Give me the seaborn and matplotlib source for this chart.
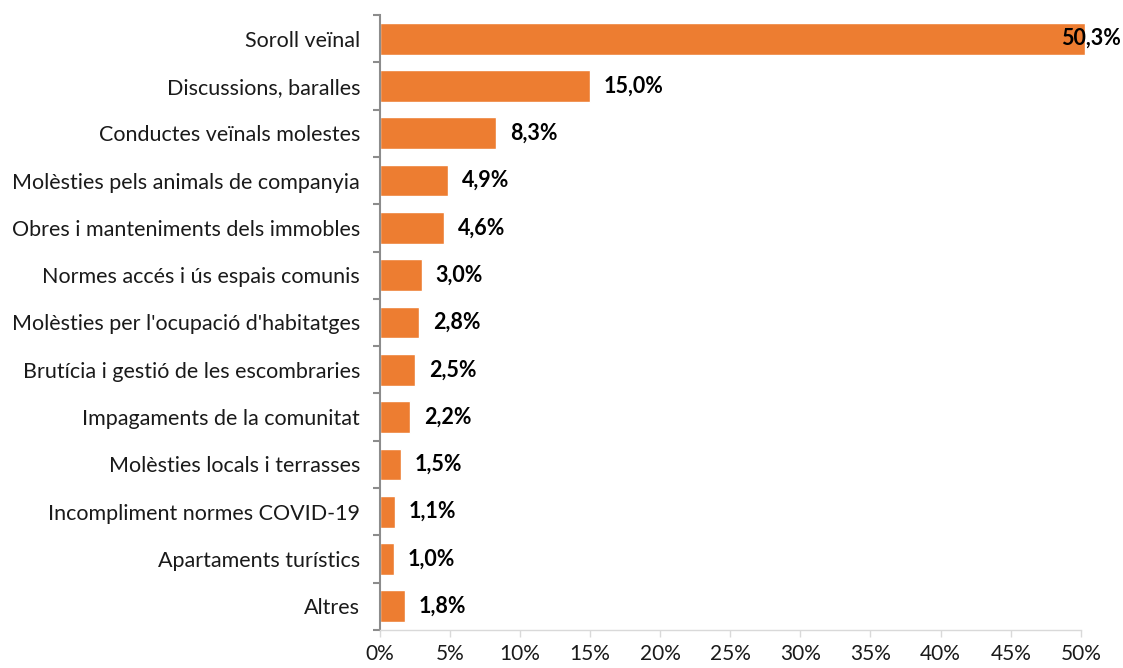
import matplotlib.pyplot as plt
import seaborn as sns
import pandas as pd
from matplotlib.ticker import FixedLocator

categories = [
    "Soroll veïnal",
    "Discussions, baralles",
    "Conductes veïnals molestes",
    "Molèsties pels animals de companyia",
    "Obres i manteniments dels immobles",
    "Normes accés i ús espais comunis",
    "Molèsties per l'ocupació d'habitatges",
    "Brutícia i gestió de les escombraries",
    "Impagaments de la comunitat",
    "Molèsties locals i terrasses",
    "Incompliment normes COVID-19",
    "Apartaments turístics",
    "Altres",
]
values = [50.3, 15.0, 8.3, 4.9, 4.6, 3.0, 2.8, 2.5, 2.2, 1.5, 1.1, 1.0, 1.8]
x_ticks = [0, 5, 10, 15, 20, 25, 30, 35, 40, 45, 50]

df = pd.DataFrame({"categoria": categories, "percent": values})

sns.set_style("white")
plt.rcParams["font.family"] = ["Lato", "DejaVu Sans"]

fig = plt.figure(figsize=(11.23, 6.68), dpi=100)
ax = fig.add_axes([0.338, 0.057, 0.6245, 0.9205])

sns.barplot(data=df, y="categoria", x="percent", orient="h", color="#ED7D31",
            saturation=1, width=0.67, ax=ax)
for p in ax.patches:
    p.set_clip_on(False)

ax.set_xlim(0, 50)
ax.set_ylim(len(categories) - 0.5, -0.5)
ax.set_xticks(x_ticks)
ax.set_xticklabels([f"{t}%" for t in x_ticks], fontsize=15)
ax.set_xlabel("")
ax.set_ylabel("")
ax.tick_params(axis="y", which="major", left=False, length=0, labelsize=15.5,
               pad=14, labelcolor="#1a1a1a")
ax.yaxis.set_minor_locator(FixedLocator([i - 0.5 for i in range(len(categories) + 1)]))
ax.tick_params(axis="y", which="minor", left=True, length=5, width=1.5,
               color="#8C8C8C", direction="out")
ax.tick_params(axis="x", bottom=True, length=5, width=1, color="#D9D9D9",
               direction="out", pad=5, labelcolor="#1a1a1a")

for s in ["top", "right"]:
    ax.spines[s].set_visible(False)
ax.spines["left"].set_color("#8C8C8C")
ax.spines["left"].set_linewidth(1.5)
ax.spines["bottom"].set_color("#D9D9D9")
ax.spines["bottom"].set_linewidth(1)

for i, v in enumerate(values):
    xpos = min(v + 1.0, 48.6)
    ax.text(xpos, i, f"{v:.1f}%".replace(".", ","), va="center", ha="left",
            fontsize=15.5, fontweight="bold", color="black", clip_on=False)

fig.savefig("out.png", dpi=100)
